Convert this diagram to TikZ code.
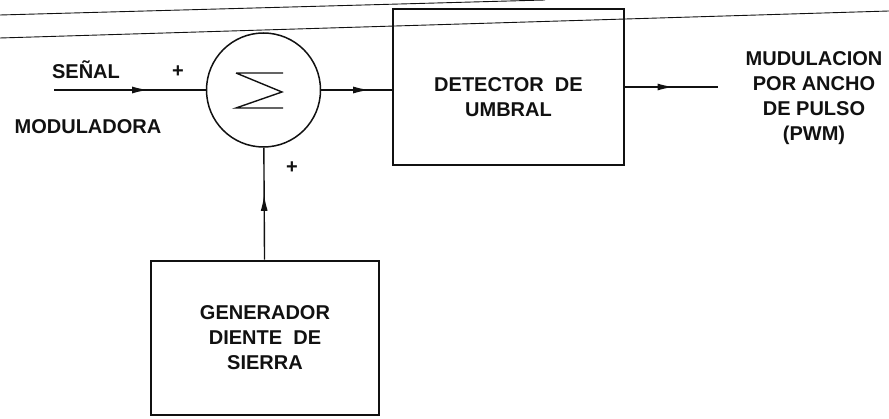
\documentclass[tikz,border=0pt]{standalone}
\usepackage{fontspec}
\setmainfont{Liberation Sans}
\usetikzlibrary{arrows.meta,decorations.markings}
\definecolor{InkMain}{HTML}{111111}
\begin{document}
\begin{tikzpicture}[x=1pt,y=-1pt,font=\fontsize{20}{25}\selectfont\bfseries,draw=InkMain,text=InkMain,
  blockbox/.style={draw,line width=2.6pt,align=center,inner sep=0pt},
  sumnode/.style={draw,circle,line width=1.5pt,minimum size=114pt,inner sep=0pt},
  flow/.style={line width=1.4pt,postaction={decorate},
    decoration={markings,mark=at position #1 with {\arrow{Latex[length=16pt,width=7pt]}}}},
  flow/.default=0.6]
 \useasboundingbox (0,0) rectangle (889,419);
 \draw[line width=0.9pt] (0,15) -- (545,0);
 \draw[line width=0.9pt] (0,38) -- (889,11);
 \node[sumnode] (sum) at (263.5,90) {};
 \draw[line width=1.4pt] (236,73) -- (283,73) (236,73) -- (282,92) -- (236,108) -- (283,108);
 \node[blockbox,minimum width=231pt,minimum height=156pt,
   label={[name=umbraltxt,yshift=-10pt,align=center]center:DETECTOR \ DE\\UMBRAL}] (umbral) at (508.5,87) {};
 \node[blockbox,minimum width=228pt,minimum height=154pt] (gen) at (265,338) {GENERADOR\\DIENTE \ DE\\SIERRA};
 \coordinate (in) at (54,90);
 \coordinate (out) at (718,87);
 \node (senal) at (86,70) {SEÑAL};
 \node (moduladora) at (88,127) {MODULADORA};
 \node (plusa) at (178,72) {+};
 \node (plusb) at (292,168) {+};
 \node[align=center] (pwm) at (814,98) {MUDULACION\\POR ANCHO\\DE PULSO\\(PWM)};
 \draw[flow=0.62] (in) -- (sum);
 \draw[flow=0.68] (sum.east) -- (umbral.west |- sum.east);
 \draw[flow=0.52] (umbral.east) -- (out);
 \draw[flow=0.58] (gen) -- (sum);
\end{tikzpicture}
\end{document}
